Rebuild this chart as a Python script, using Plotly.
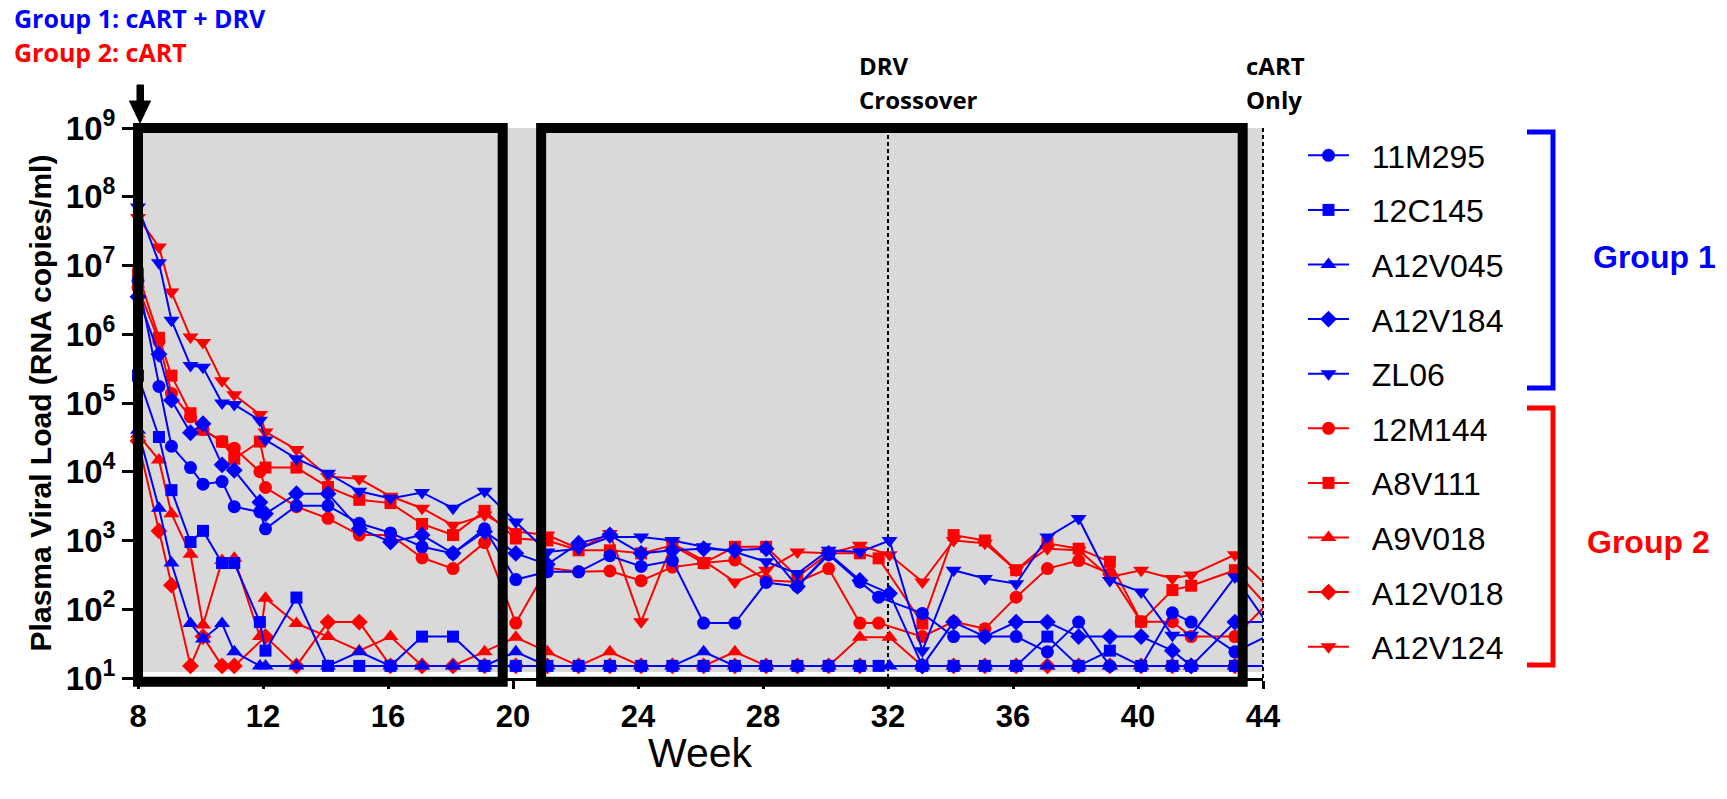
import plotly.graph_objects as go

# ---------------- data ----------------
weeks = [8, 8.67, 9.07, 9.68, 10.08, 10.69, 11.08, 11.9, 12.08, 13.07, 14.08, 15.08, 16.08, 17.09, 18.08, 19.09, 20.09,
         21.1, 22.1, 23.1, 24.1, 25.1, 26.1, 27.1, 28.1, 29.1, 30.1, 31.1, 31.7, 32.05, 33.1, 34.1, 35.1, 36.1, 37.1,
         38.1, 39.1, 40.1, 41.1, 41.7, 43.1, 44.1]

v_11M295 = [6.0e6, 1.74e5, 2.35e4, 1.15e4, 6.6e3, 7.2e3, 3.1e3, 2.6e3, 1.48e3, 3.2e3, 3.2e3, 1.78e3, 1.29e3, 810, 650, 1.48e3, 270,
            350, 350, 600, 420, 510, 63, 63, 245, 215, 620, 250,
            150, None, 87, 40, 40, 40, 24, 65, 15, 15, 89, 65, 24, 40]
v_12C145 = [2.5e5, 3.2e4, 5.4e3, 950, 1.38e3, 470, 470, 65, 25, 148, 15, 15, 15, 40, 40, 15, 15,
            15, 15, 15, 15, 15, 15, 15, 15, 15, 15, 15,
            15, None, 15, 15, 15, 15, 40, 15, 25, 15, 15, 15, 15, 15]
v_A12V045 = [4.0e4, 2.95e3, 470, 62, 37, 62, 24, 15, 15, 15, 15, 24, 15, 15, 15, 15, 24,
             15, 15, 15, 15, 15, 24, 15, 15, 15, 15, 15,
             None, 15, 15, 15, 15, 15, 15, 15, 15, 15, 15, 15, 15, 15]
v_A12V184 = [3.5e6, 5.1e5, 1.1e5, 3.7e4, 5.0e4, 1.26e4, 1.05e4, 3.6e3, 2.45e3, 4.8e3, 4.8e3, 1.48e3, 950, 1.2e3, 650, 1.35e3, 650,
             450, 910, 1200, 650, 720, 760, 720, 760, 215, 650, 263,
             None, 170, 15, 65, 40, 65, 65, 40, 40, 40, 25, 15, 65, 65]
v_ZL06 = [7.1e7, 1.1e7, 1.6e6, 3.5e5, 3.3e5, 1.0e5, 9.5e4, 5.6e4, 2.9e4, 1.55e4, 9.5e3, 5.2e3, 4.1e3, 5.0e3, 2.95e3, 5.2e3, 1.86e3,
          680, 760, 1120, 1120, 1000, 810, 680, 490, 330, 720, 680,
          None, 1000, 25, 370, 280, 235, 1120, 2090, 263, 178, 42, 42, 295, 66]
v_12M144 = [4.8e6, 7.9e5, 1.38e5, 6.3e4, 4.1e4, 2.75e4, 2.2e4, 1.0e4, 5.9e3, 3.1e3, 2.1e3, 1.2e3, 1.2e3, 560, 390, 930, 63,
            400, 350, 360, 260, 410, 470, 520, 265, 250, 390, 63,
            63, None, 40, 66, 52, 150, 390, 510, 330, 66, 66, 40, 40, 115]
v_A8V111 = [7.6e6, 8.9e5, 2.5e5, 7.1e4, 4.1e4, 2.75e4, 1.55e4, 2.75e4, 1.15e4, 1.15e4, 6.0e3, 3.9e3, 3.5e3, 1.74e3, 1.2e3, 2.7e3, 1.07e3,
            1000, 720, 720, 650, 850, 470, 810, 810, 295, 650, 650,
            550, None, 62, 1200, 1000, 370, 910, 760, 490, 66, 190, 220, 370, 115]
v_A9V018 = [3.5e4, 1.48e4, 2.45e3, 630, 59, 510, 550, 40, 145, 62, 40, 25, 40, 15, 15, 24, 39,
            24, 15, 24, 15, 15, 15, 24, 15, 15, 15, 39,
            None, 39, 15, 15, 15, 15, 15, 15, 15, 15, 15, 15, 15, 15]
v_A12V018 = [2.8e4, 1.38e3, 224, 15, 40, 15, 15, None, 40, 15, 65, 65, 15, 15, 15, 15, 15,
             15, 15, 15, 15, 15, 15, 15, 15, 15, 15, 15,
             None, None, 15, 15, 15, 15, 15, 15, 15, 15, 15, 15, 15, 15]
v_A12V124 = [5.0e7, 1.86e7, 4.1e6, 9.1e5, 7.6e5, 2.1e5, 1.32e5, 6.8e4, 3.8e4, 2.1e4, 8.5e3, 7.9e3, 4.4e3, 2.95e3, 1.66e3, 2.35e3, 1.35e3,
             1200, 760, 1260, 66, 910, 510, 250, 370, 680, 650, 850,
             None, 620, 250, 1000, 910, 370, 760, 720, 295, 370, 280, 316, 620, 224]

series_names = ["11M295", "12C145", "A12V045", "A12V184", "ZL06",
                "12M144", "A8V111", "A9V018", "A12V018", "A12V124"]
series_values = [v_11M295, v_12C145, v_A12V045, v_A12V184, v_ZL06,
                 v_12M144, v_A8V111, v_A9V018, v_A12V018, v_A12V124]
group_of_series = [1, 1, 1, 1, 1, 2, 2, 2, 2, 2]
symbols = ["circle", "square", "triangle-up", "diamond", "triangle-down"] * 2

x_ticks = [8, 12, 16, 20, 24, 28, 32, 36, 40, 44]
y_exponents = [1, 2, 3, 4, 5, 6, 7, 8, 9]
x_range = [8, 44]

# periods / events (weeks)
box1_weeks = [8, 19.67]
box2_weeks = [20.9, 43.35]
event_weeks = [32, 44]

# ---------------- styling ----------------
BLUE = "#0000FF"
RED = "#FF0000"
GRAY = "#D9D9D9"
ARIAL = "Arial, Liberation Sans, sans-serif"
CALI = "Open Sans, Noto Sans, sans-serif"
group_color = {1: BLUE, 2: RED}
marker_size = {"circle": 13, "square": 12, "triangle-up": 14, "diamond": 13, "triangle-down": 14}
NBSP = "\u00a0"

W, H = 1727, 799
ML, MR, MT, MB = 138, 464, 128, 121
PW, PH = W - ML - MR, H - MT - MB


def xp(px):  # pixel -> paper x
    return (px - ML) / PW


def yp(py):  # pixel -> paper y
    return (MT + PH - py) / PH


def xdom(w):
    return (w - x_range[0]) / (x_range[1] - x_range[0])


fig = go.Figure()
draw_order = [5, 6, 7, 8, 9, 0, 1, 2, 3, 4]  # red first, blue on top
for i in draw_order:
    c = group_color[group_of_series[i]]
    s = symbols[i]
    fig.add_trace(go.Scatter(
        x=weeks, y=series_values[i], name=NBSP * 2 + series_names[i], mode="lines+markers",
        line=dict(color=c, width=2), marker=dict(symbol=s, size=marker_size[s], color=c, line=dict(width=0)),
        connectgaps=True, cliponaxis=False, legendrank=i + 1, legendgroup=series_names[i],
    ))

shapes = []
# gray shaded background
shapes.append(dict(type="rect", xref="x domain", yref="y domain", x0=0, x1=1, y0=0.011, y1=1,
                   fillcolor=GRAY, line=dict(width=0), layer="below"))
# dashed event lines
for w in event_weeks:
    shapes.append(dict(type="line", xref="x domain", yref="y domain", x0=xdom(w), x1=xdom(w), y0=0, y1=1,
                       line=dict(color="black", width=2, dash="4px,3px"), layer="below"))
# thick black boxes
for a, b in (box1_weeks, box2_weeks):
    shapes.append(dict(type="rect", xref="x domain", yref="y domain", x0=xdom(a), x1=xdom(b), y0=-0.007, y1=1.0,
                       line=dict(color="black", width=10), fillcolor="rgba(0,0,0,0)", layer="above"))
# downward arrow at week 8
arrow_pts = [(137, 85), (143.5, 85), (143.5, 101), (150.5, 101), (140, 123), (129.5, 101), (137, 101)]
path = "M" + " L".join(f"{xp(a):.5f},{yp(b):.5f}" for a, b in arrow_pts) + " Z"
shapes.append(dict(type="path", xref="paper", yref="paper", path=path, fillcolor="black",
                   line=dict(color="black", width=1), layer="above"))
# group brackets
for (top, bot), col in (((132, 388), BLUE), ((408, 665), RED)):
    p = (f"M{xp(1527):.5f},{yp(top):.5f} L{xp(1553):.5f},{yp(top):.5f} "
         f"L{xp(1553):.5f},{yp(bot):.5f} L{xp(1527):.5f},{yp(bot):.5f}")
    shapes.append(dict(type="path", xref="paper", yref="paper", path=p,
                       line=dict(color=col, width=5), layer="above"))

annotations = []


def add_text(text, x_px, y_px, color, family, size, weight="bold", anchor="left"):
    annotations.append(dict(text=text, x=xp(x_px), y=yp(y_px), xref="paper", yref="paper",
                            xanchor=anchor, yanchor="middle", showarrow=False,
                            font=dict(family=family, size=size, color=color, weight=weight)))


add_text("Group 1: cART + DRV", 12, 18, BLUE, CALI, 25)
add_text("Group 2: cART", 12, 52, RED, CALI, 25)
add_text("DRV", 857, 66, "black", CALI, 24)
add_text("Crossover", 857, 100, "black", CALI, 24)
add_text("cART", 1244, 66, "black", CALI, 24)
add_text("Only", 1244, 100, "black", CALI, 24)
add_text("Group 1", 1591, 257, BLUE, ARIAL, 32)
add_text("Group 2", 1585, 542, RED, ARIAL, 32)
add_text("Week", ML + PW / 2, 753, "black", ARIAL, 41, weight="normal", anchor="center")

fig.update_layout(
    width=W, height=H,
    margin=dict(l=ML, r=MR, t=MT, b=MB, autoexpand=False),
    paper_bgcolor="white", plot_bgcolor="white",
    shapes=shapes, annotations=annotations,
    showlegend=True,
    legend=dict(x=xp(1303), y=yp(128), xanchor="left", yanchor="top",
                font=dict(family=ARIAL, size=32, color="black"), itemwidth=41,
                bgcolor="rgba(0,0,0,0)", tracegroupgap=10, borderwidth=0),
    xaxis=dict(range=x_range, tickvals=x_ticks, ticktext=[str(t) for t in x_ticks],
               showline=True, linewidth=3, linecolor="black", ticks="outside", ticklen=8, tickwidth=3,
               tickcolor="black", showgrid=False, zeroline=False, ticklabelstandoff=1,
               tickfont=dict(family=ARIAL, size=31, color="black", weight="bold")),
    yaxis=dict(type="log", range=[y_exponents[0], y_exponents[-1]],
               tickvals=[10 ** e for e in y_exponents],
               ticktext=[f"10<sup>{e}</sup>" for e in y_exponents],
               showline=True, linewidth=3, linecolor="black", ticks="outside", ticklen=13, tickwidth=3,
               tickcolor="black", showgrid=False, zeroline=False,
               tickfont=dict(family=ARIAL, size=33, color="black", weight="bold"),
               title=dict(text="Plasma Viral Load (RNA copies/ml)",
                          font=dict(family=ARIAL, size=30, color="black", weight="bold"), standoff=6)),
)

fig.write_html("out.html")
